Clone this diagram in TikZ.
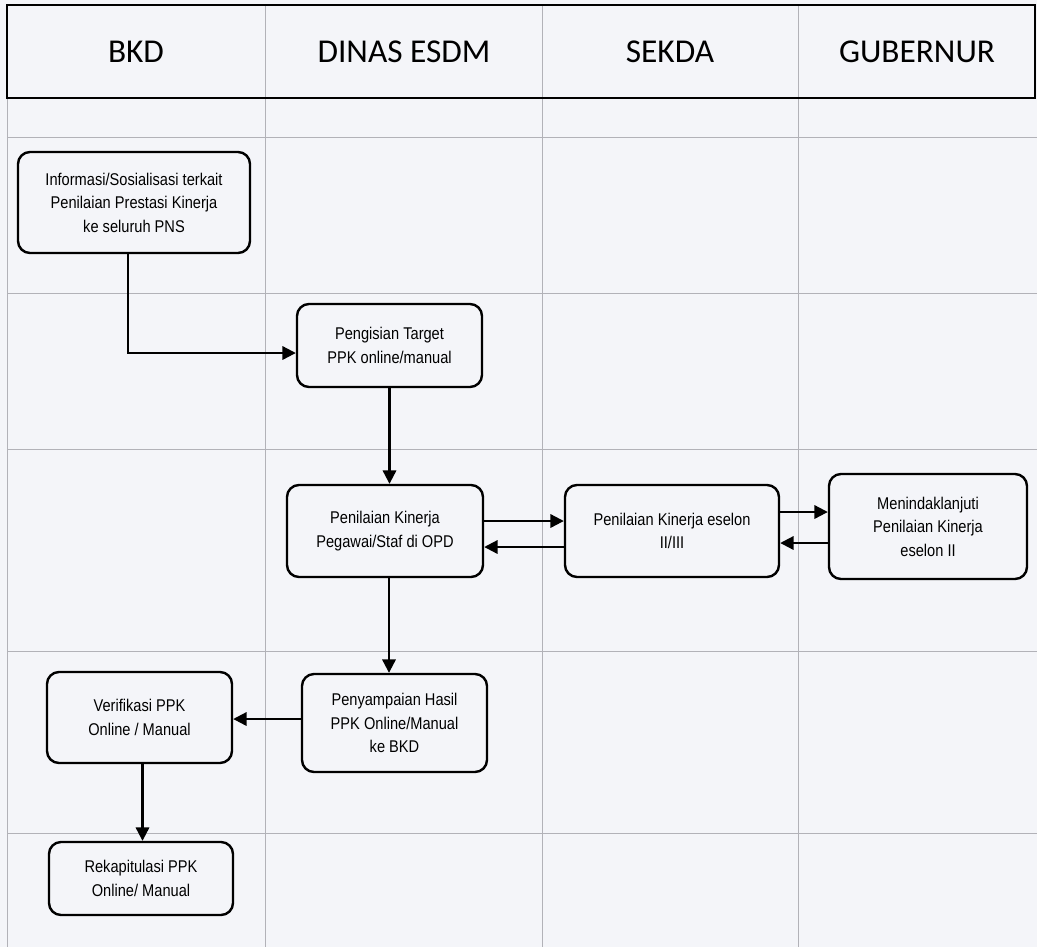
\documentclass[tikz,border=0pt]{standalone}
\usepackage{fontspec}
\setmainfont{Liberation Sans}
\newfontfamily\headfont{Carlito}
\newfontfamily\boxfont[FakeStretch=0.86]{Liberation Sans}
\usetikzlibrary{arrows.meta,calc}
\definecolor{paper}{RGB}{244,245,249}
\definecolor{gridgray}{RGB}{178,178,184}

\begin{document}
\begin{tikzpicture}[x=0.75pt,y=0.75pt,yscale=-1,xscale=1,
  lane/.style={font=\headfont\fontsize{25}{29}\selectfont,inner sep=0.75pt},
  proc/.style={draw,rounded corners=9pt,line width=1.8pt,align=center,inner sep=0.75pt,font=\boxfont\fontsize{12.75}{17.6}\selectfont},
  arrow/.style={line width=1.6pt,-{Triangle[length=10pt,width=10pt]}}]
\useasboundingbox (0,0) rectangle (1037,947);
\fill[paper] (0,0) rectangle (1037,947);

% lanes
\foreach \x in {7,265,542,798} \draw[gridgray,line width=0.6pt] (\x,5) -- (\x,947);
\foreach \y in {137,293,449,651,833} \draw[gridgray,line width=0.6pt] (7,\y) -- (1037,\y);
\draw[line width=1.2pt] (7,5) rectangle (1035,98);

\node[lane] (bkd) at (136,52) {BKD};
\node[lane] (dinas) at (404,52) {DINAS ESDM};
\node[lane] (sekda) at (670,52) {SEKDA};
\node[lane] (gub) at (917,52) {GUBERNUR};

% steps
\node[proc,minimum width=174pt,minimum height=75.75pt] (info) at (134,202.5) {Informasi/Sosialisasi terkait\\Penilaian Prestasi Kinerja\\ke seluruh PNS};
\node[proc,minimum width=138.75pt,minimum height=62.25pt] (target) at (389.5,345.5) {Pengisian Target\\PPK online/manual};
\node[proc,minimum width=147pt,minimum height=69pt] (kinerja) at (385,531) {Penilaian Kinerja\\Pegawai/Staf di OPD};
\node[proc,minimum width=160.5pt,minimum height=69pt] (eselon) at (672,531) {Penilaian Kinerja eselon\\II/III};
\node[proc,minimum width=148.5pt,minimum height=78.75pt] (lanjut) at (928,526.5) {Menindaklanjuti\\Penilaian Kinerja\\eselon II};
\node[proc,minimum width=138.75pt,minimum height=73.5pt] (hasil) at (394.5,723) {Penyampaian Hasil\\PPK Online/Manual\\ke BKD};
\node[proc,minimum width=138.75pt,minimum height=68.25pt] (verif) at (139.5,717.5) {Verifikasi PPK\\Online / Manual};
\node[proc,minimum width=138pt,minimum height=54.75pt] (rekap) at (141,878.5) {Rekapitulasi PPK\\Online/ Manual};

% flow
\draw[arrow] ($(info.south)+(-6,0)$) |- ($(target.west)+(0,7.5)$);
\draw[arrow] (target.south) -- (target.south |- kinerja.north);
\draw[arrow] ($(kinerja.east)+(0,-10)$) -- ($(eselon.west)+(0,-10)$);
\draw[arrow] ($(eselon.west)+(0,16)$) -- ($(kinerja.east)+(0,16)$);
\draw[arrow] ($(eselon.east)+(0,-19)$) -- ($(lanjut.west)+(0,-14.5)$);
\draw[arrow] ($(lanjut.west)+(0,16.5)$) -- ($(eselon.east)+(0,12)$);
\draw[arrow] ($(kinerja.south)+(4,0)$) -- ($(hasil.north)+(-5.5,0)$);
\draw[arrow] ($(hasil.west)+(0,-4)$) -- ($(verif.east)+(0,1.5)$);
\draw[arrow] ($(verif.south)+(3,0)$) -- ($(rekap.north)+(1.5,0)$);

\end{tikzpicture}
\end{document}
